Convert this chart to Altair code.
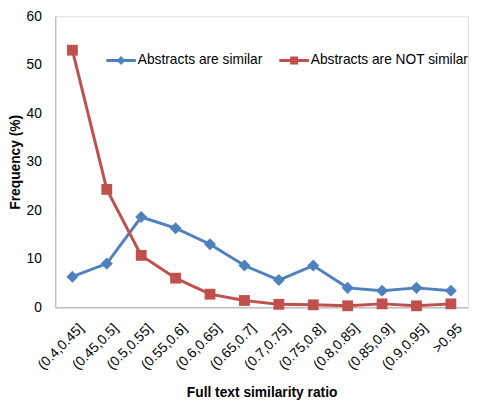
import altair as alt
import pandas as pd

categories = ["(0.4,0.45]", "(0.45,0.5]", "(0.5,0.55]", "(0.55,0.6]", "(0.6,0.65]",
              "(0.65,0.7]", "(0.7,0.75]", "(0.75,0.8]", "(0.8,0.85]", "(0.85,0.9]",
              "(0.9,0.95]", ">0.95"]
similar = [6.3, 9.0, 18.6, 16.3, 13.0, 8.6, 5.6, 8.6, 4.0, 3.4, 4.0, 3.4]
not_similar = [53.0, 24.3, 10.7, 6.0, 2.7, 1.4, 0.6, 0.5, 0.3, 0.7, 0.3, 0.7]
series_names = ["Abstracts are similar", "Abstracts are NOT similar"]
series_colors = ["#4F81BD", "#C0504D"]
y_ticks = [0, 10, 20, 30, 40, 50, 60]

rows = []
for name, vals in zip(series_names, [similar, not_similar]):
    for c, v in zip(categories, vals):
        rows.append({"ratio": c, "freq": v, "series": name})
df = pd.DataFrame(rows)

FONT = "Liberation Sans"

x_enc = alt.X("ratio:N", sort=categories,
              scale=alt.Scale(type="point", padding=0.5),
              axis=alt.Axis(title="Full text similarity ratio", labelAngle=-45,
                            labelAlign="right", labelBaseline="top",
                            labelFontSize=14, labelPadding=14, labelOffset=4, ticks=False,
                            domainColor="#bfbfbf", domainWidth=1.5,
                            titleFontSize=14, titleFontWeight="bold",
                            titlePadding=14, labelColor="#000", titleColor="#000"))
y_enc = alt.Y("freq:Q", scale=alt.Scale(domain=[0, 60], nice=False),
              axis=alt.Axis(title="Frequency (%)", values=y_ticks, grid=False,
                            ticks=False, domainColor="#bfbfbf", domainWidth=1.5,
                            labelFontSize=14, labelPadding=14,
                            titleFontSize=14, titleFontWeight="bold",
                            titlePadding=4, labelColor="#000", titleColor="#000"))
color_enc = alt.Color("series:N", scale=alt.Scale(domain=series_names, range=series_colors),
                      legend=None)

base = alt.Chart(df)

lines = base.mark_line(strokeWidth=3).encode(x=x_enc, y=y_enc, color=color_enc,
                                             detail="series:N")
pts_sim = base.transform_filter(alt.datum.series == series_names[0]).mark_point(
    filled=True, opacity=1, shape="diamond", size=150).encode(x=x_enc, y=y_enc, color=color_enc)
pts_not = base.transform_filter(alt.datum.series == series_names[1]).mark_point(
    filled=True, opacity=1, shape="square", size=121).encode(x=x_enc, y=y_enc, color=color_enc)

legend_paths = [
    "M-1,-0.1H1V0.1H-1Z M0,-0.3L0.3,0L0,0.3L-0.3,0Z",
    "M-1,-0.1H1V0.1H-1Z M-0.27,-0.27H0.27V0.27H-0.27Z",
]
leg = alt.Legend(title=None, orient="none", direction="horizontal",
                 legendX=52, legendY=30, padding=0,
                 labelFontSize=14, labelFont=FONT, labelColor="#000",
                 labelOffset=2, columnPadding=17, labelLimit=300,
                 symbolSize=900, symbolStrokeWidth=0)
legend_layer = base.transform_filter("datum.freq < 0").mark_point(
    filled=True, opacity=1, size=900).encode(
    x=x_enc, y=y_enc,
    shape=alt.Shape("series:N", scale=alt.Scale(domain=series_names, range=legend_paths),
                    legend=leg),
    fill=alt.Fill("series:N", scale=alt.Scale(domain=series_names, range=series_colors),
                  legend=leg),
)

chart = alt.layer(lines, pts_sim, pts_not, legend_layer).resolve_scale(
    shape="independent", fill="independent"
).properties(
    width=420, height=296,
    autosize=alt.AutoSizeParams(type="none"),
    padding={"left": 48, "top": 5, "right": 5, "bottom": 95},
).configure_view(stroke=None).configure(font=FONT)

chart.save("out.html", embed_options={"renderer": "svg", "actions": False})
